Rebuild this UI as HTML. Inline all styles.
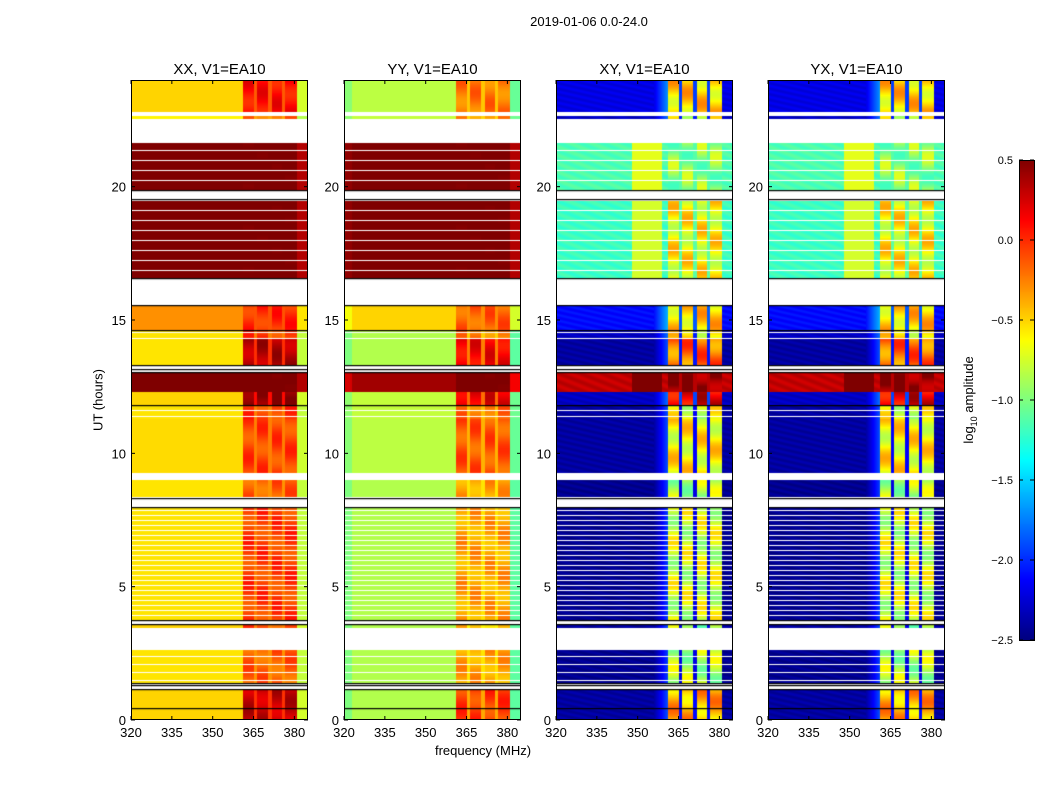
<!DOCTYPE html>
<html><head><meta charset="utf-8">
<style>
body{margin:0;background:#fff;width:1050px;height:800px;overflow:hidden;font-family:"Liberation Sans",sans-serif;}
.abs{position:absolute;}
canvas{position:absolute;}
.t{position:absolute;font-size:13px;color:#000;white-space:nowrap;}
</style></head>
<body>
<div id="fig" class="abs" style="left:0;top:0;width:1050px;height:800px">
<div class="t" style="left:589px;top:14px;transform:translateX(-50%)">2019-01-06 0.0-24.0</div>
<div class="t" style="left:483px;top:743px;transform:translateX(-50%)">frequency (MHz)</div>
<div class="t" style="left:98px;top:400px;transform:translate(-50%,-50%) rotate(-90deg)">UT (hours)</div>
<div class="t" style="left:970px;top:400px;transform:translate(-50%,-50%) rotate(-90deg)">log<sub style="font-size:9px">10</sub> amplitude</div>
<canvas id="cb" width="15" height="480" style="left:1019px;top:160px"></canvas>
<svg id="ov" class="abs" width="1050" height="800" style="left:0;top:0;z-index:5"></svg>
</div>
<script>
// time segments (hours): start, end, XX level, YY level, cross level, RFI boost XX, YY, cross ; NaN = flagged/white
const segStart=[0,1.12,1.4,2.62,3.45,3.6,3.75,8.0,8.35,9.0,9.25,11.3,11.8,12.3,13.05,13.3,14.3,14.62,15.56,16.57,19.53,19.87,21.63,22.53,22.65,22.8];
const segEnd  =[1.12,1.4,2.62,3.45,3.6,3.75,8.0,8.35,9.0,9.25,11.3,11.8,12.3,13.05,13.3,14.3,14.62,15.56,16.57,19.53,19.87,21.63,22.53,22.65,22.8,24];
const lvlXX=[-0.5,NaN,-0.55,NaN,-0.5,NaN,-0.55,NaN,-0.55,NaN,-0.52,-0.55,-0.5,0.6,NaN,-0.55,-0.55,-0.3,NaN,0.6,NaN,0.6,NaN,-0.6,NaN,-0.5];
const lvlYY=[-0.85,NaN,-0.85,NaN,-0.85,NaN,-0.85,NaN,-0.85,NaN,-0.82,-0.8,-0.8,0.4,NaN,-0.85,-0.85,-0.5,NaN,0.6,NaN,0.6,NaN,-0.8,NaN,-0.82];
const lvlCR=[-2.4,NaN,-2.45,NaN,-2.4,NaN,-2.45,NaN,-2.45,NaN,-2.4,-2.4,-2.3,0.3,NaN,-2.4,-2.3,-2.1,NaN,-1.2,NaN,-1.15,NaN,-2.3,NaN,-2.2];
const rfiXX=[0.8,0,0.4,0,0.4,0,0.5,0,0.4,0,0.45,0.5,1.0,0,0,0.9,0.5,0.3,0,0,0,0,0,0.4,0,0.6];
const rfiYY=[0.8,0,0.5,0,0.4,0,0.5,0,0.5,0,0.7,0.6,1.0,0.2,0,1.0,0.6,0.35,0,0,0,0,0,0.5,0,0.6];
const rfiCR=[2.0,0,1.6,0,1.5,0,1.7,0,1.6,0,1.8,1.7,2.5,0.2,0,2.2,1.7,1.6,0,0.6,0,0.2,0,1.6,0,1.7];
const stripeSeg=[0,0,8,0,0,0,5,0,0,0,0,6,0,0,0,0,6,0,0,10,0,10,0,0,0,0];
const blackLines=[0.45,1.15,1.3,1.38,3.6,3.75,8.0,8.32,11.8,13.05,13.15,13.3,14.62,15.56,16.57,19.53,19.87];
const rfiGaps=[365.6,371.0,376.0];
const xTicks=[320,335,350,365,380];
const yTicks=[0,5,10,15,20];
const cbTicks=[0.5,0.0,-0.5,-1.0,-1.5,-2.0,-2.5];
const cbLabels=["0.5","0.0","\u22120.5","\u22121.0","\u22121.5","\u22122.0","\u22122.5"];
const panelNames=["XX, V1=EA10","YY, V1=EA10","XY, V1=EA10","YX, V1=EA10"];
const panelLeft=[131,344,556,768];
const PW=177,PT=80,PB=720,FMIN=320,FMAX=385,VMIN=-2.5,VMAX=0.5;
function xs(f,i){return panelLeft[i]+(f-FMIN)/(FMAX-FMIN)*PW;}
function ys(h){return PB-h/24*(PB-PT);}
function jet(v){let t=(v-VMIN)/(VMAX-VMIN);t=Math.max(0,Math.min(1,t));
 const c=x=>Math.max(0,Math.min(1,x));
 const r=c(1.5-Math.abs(4*t-3)),g=c(1.5-Math.abs(4*t-2)),b=c(1.5-Math.abs(4*t-1));
 return [r*255|0,g*255|0,b*255|0];}
const svg=document.getElementById('ov');const NS="http://www.w3.org/2000/svg";
const fig=document.getElementById('fig');
function el(tag,attrs,txt){const e=document.createElementNS(NS,tag);for(const k in attrs)e.setAttribute(k,attrs[k]);if(txt!==undefined)e.textContent=txt;svg.appendChild(e);return e;}
for(let p=0;p<4;p++){
 const cv=document.createElement('canvas');cv.width=PW;cv.height=PB-PT;
 cv.style.left=panelLeft[p]+'px';cv.style.top=PT+'px';
 
 
 fig.insertBefore(cv,svg);
 const ctx=cv.getContext('2d');const img=ctx.createImageData(PW,PB-PT);
 const cross=p>=2;
 for(let r=0;r<PB-PT;r++){
  const h=(PB-PT-r-0.5)/(PB-PT)*24;
  let s=0;for(let k=0;k<segStart.length;k++){if(h>=segStart[k]&&h<segEnd[k]){s=k;break;}}
  const base=p==0?lvlXX[s]:p==1?lvlYY[s]:lvlCR[s];
  const boost=p==0?rfiXX[s]:p==1?rfiYY[s]:rfiCR[s];
  let white=isNaN(base);
  if(stripeSeg[s]&&(r%stripeSeg[s]==0))white=true;
  for(let c=0;c<PW;c++){
   const i=(r*PW+c)*4;
   if(white){img.data[i]=img.data[i+1]=img.data[i+2]=255;img.data[i+3]=255;continue;}
   const f=FMIN+(c+0.5)/PW*(FMAX-FMIN);
   let v=base;
   const tex=0.12*Math.sin(h*4.0+Math.floor((f-361)/5)*1.7);
   if(f>361.3&&f<381){
     let gap=rfiGaps.some(g=>Math.abs(f-g)<0.6);
     v=base+boost*(gap?(cross?0.15:0.6):1)+(gap?0:tex*(cross?2:1));
   } else {
     if(!cross){ if(f>381)v-=0.25; if(p==1&&f<323)v-=0.15; }
     else {
       if(base>-1.5){ v+= (f>348&&f<359)?0.45:0.05*Math.sin(f*0.8+h*20); }
       else { v+= (f>356&&f<361.3)?0.5*(f-356)/5:0.05*Math.sin(f*0.7+h*30); }
     }
   }
   const col=jet(v);img.data[i]=col[0];img.data[i+1]=col[1];img.data[i+2]=col[2];img.data[i+3]=255;
  }
 }
 ctx.putImageData(img,0,0);
 ctx.fillStyle='#000';
 for(const bl of blackLines){ctx.fillRect(0,Math.round(ys(bl)-PT),PW,1.2);}
 const L=panelLeft[p];
 el('rect',{x:L+0.5,y:PT+0.5,width:PW-1,height:PB-PT-1,fill:'none',stroke:'#000','stroke-width':1,});
 el('text',{x:L+PW/2,y:PT-6,'text-anchor':'middle','font-size':15,'font-family':'Liberation Sans, sans-serif',},panelNames[p]);
 for(const t of xTicks){const x=xs(t,p);
  el('line',{x1:x,x2:x,y1:PB,y2:PB-4,stroke:'#000'});el('line',{x1:x,x2:x,y1:PT,y2:PT+4,stroke:'#000'});
  el('text',{x:x,y:PB+17,'text-anchor':'middle','font-size':13,'font-family':'Liberation Sans, sans-serif',},t);}
 for(const t of yTicks){const y=ys(t);
  el('line',{x1:L,x2:L+4,y1:y,y2:y,stroke:'#000'});el('line',{x1:L+PW,x2:L+PW-4,y1:y,y2:y,stroke:'#000'});
  el('text',{x:L-5,y:y+5,'text-anchor':'end','font-size':13,'font-family':'Liberation Sans, sans-serif',},t);}
}
// colorbar
const cb=document.getElementById('cb').getContext('2d');
for(let r=0;r<480;r++){const v=VMAX-(r+0.5)/480*(VMAX-VMIN);const c=jet(v);cb.fillStyle=`rgb(${c[0]},${c[1]},${c[2]})`;cb.fillRect(0,r,15,1);}
el('rect',{x:1019.5,y:160.5,width:15,height:480,fill:'none',stroke:'#000',});
cbTicks.forEach((t,k)=>{const y=160+(VMAX-t)/(VMAX-VMIN)*480;
 el('line',{x1:1019,x2:1023,y1:y,y2:y,stroke:'#000'});el('line',{x1:1030,x2:1034,y1:y,y2:y,stroke:'#000'});
 el('text',{x:1013,y:y+4,'text-anchor':'end','font-size':11,'font-family':'Liberation Sans, sans-serif',},cbLabels[k]);});
</script>
</body></html>
